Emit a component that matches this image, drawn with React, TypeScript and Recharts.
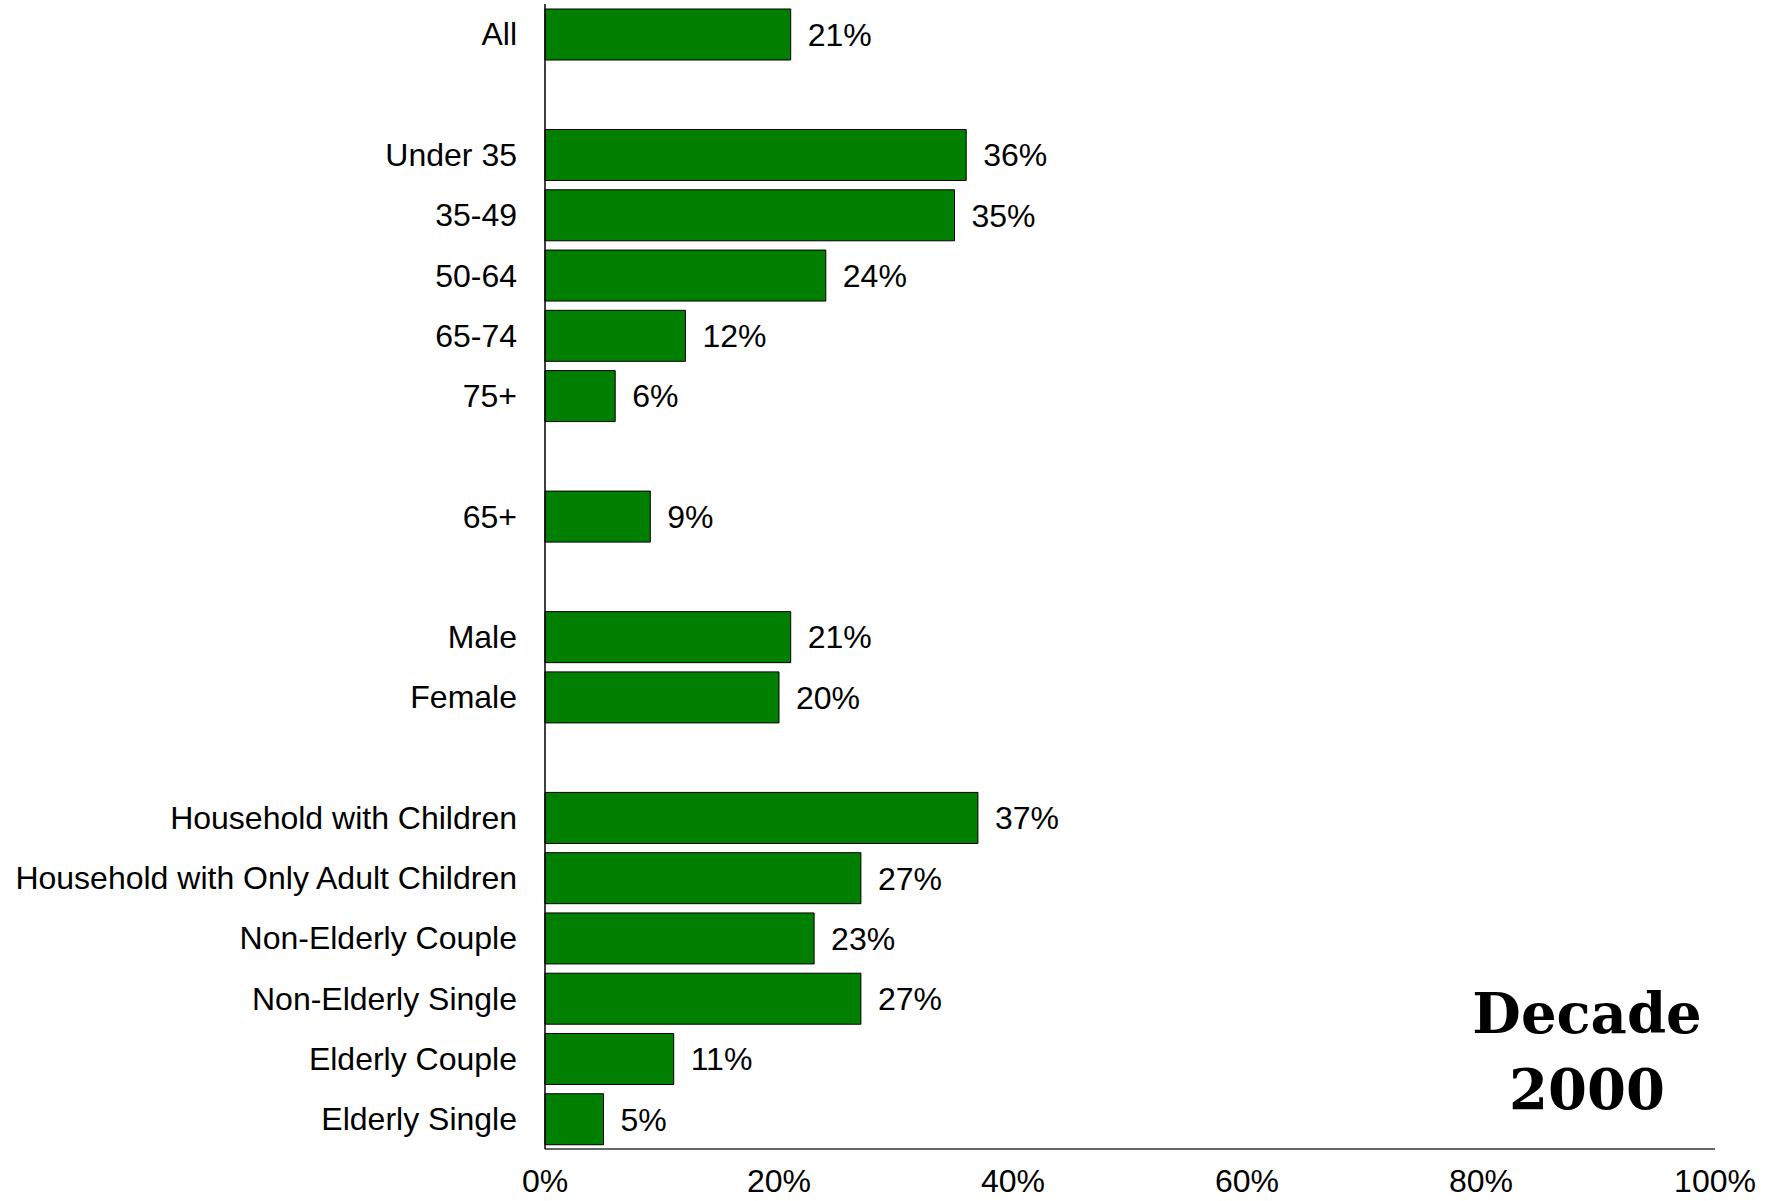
import { BarChart, Bar, XAxis, YAxis, LabelList } from 'recharts'

// blank strings are the spacer rows between groups
const categories = [
  'All', '',
  'Under 35', '35-49', '50-64', '65-74', '75+', '',
  '65+', '',
  'Male', 'Female', '',
  'Household with Children', 'Household with Only Adult Children',
  'Non-Elderly Couple', 'Non-Elderly Single', 'Elderly Couple', 'Elderly Single',
]
const shares = [
  21, null,
  36, 35, 24, 12, 6, null,
  9, null,
  21, 20, null,
  37, 27, 23, 27, 11, 5,
]
const xTicks = [0, 20, 40, 60, 80, 100]

const data = categories.map((c, i) => ({ idx: i, share: shares[i] }))

const font = '"Liberation Sans", Arial, Helvetica, sans-serif'
const tickStyle = { fontSize: 32, fill: '#000', fontFamily: font }

export default function App() {
  return (
    <div style={{ position: 'absolute', left: 0, top: 0, width: 1771, height: 1201, background: '#fff' }}>
      <BarChart
        layout="vertical"
        width={1771}
        height={1201}
        data={data}
        margin={{ top: 4, right: 56, bottom: 0, left: 0 }}
        barSize={51}
      >
        <XAxis
          type="number"
          domain={[0, 100]}
          ticks={xTicks}
          tickFormatter={v => `${v}%`}
          axisLine={{ stroke: '#333', strokeWidth: 1.5 }}
          tickLine={false}
          tickSize={0}
          tickMargin={20}
          height={52}
          tick={tickStyle}
        />
        <YAxis
          type="category"
          dataKey="idx"
          width={545}
          interval={0}
          tickFormatter={i => categories[i]}
          axisLine={{ stroke: '#000', strokeWidth: 1.5 }}
          tickLine={false}
          tickSize={0}
          tickMargin={28}
          tick={tickStyle}
        />
        <Bar dataKey="share" fill="#007f00" stroke="#000" strokeWidth={1} isAnimationActive={false}>
          <LabelList
            dataKey="share"
            position="right"
            offset={17}
            formatter={(v: any) => (v == null ? '' : `${v}%`)}
            style={{ fontSize: 32, fill: '#000', fontFamily: font }}
          />
        </Bar>
      </BarChart>
      <div
        style={{
          position: 'absolute',
          left: 1467,
          top: 975,
          width: 240,
          textAlign: 'center',
          fontFamily: '"DejaVu Serif", serif',
          fontWeight: 900,
          fontSize: 56,
          lineHeight: '76px',
          color: '#000',
        }}
      >
        Decade<br />2000
      </div>
    </div>
  )
}
